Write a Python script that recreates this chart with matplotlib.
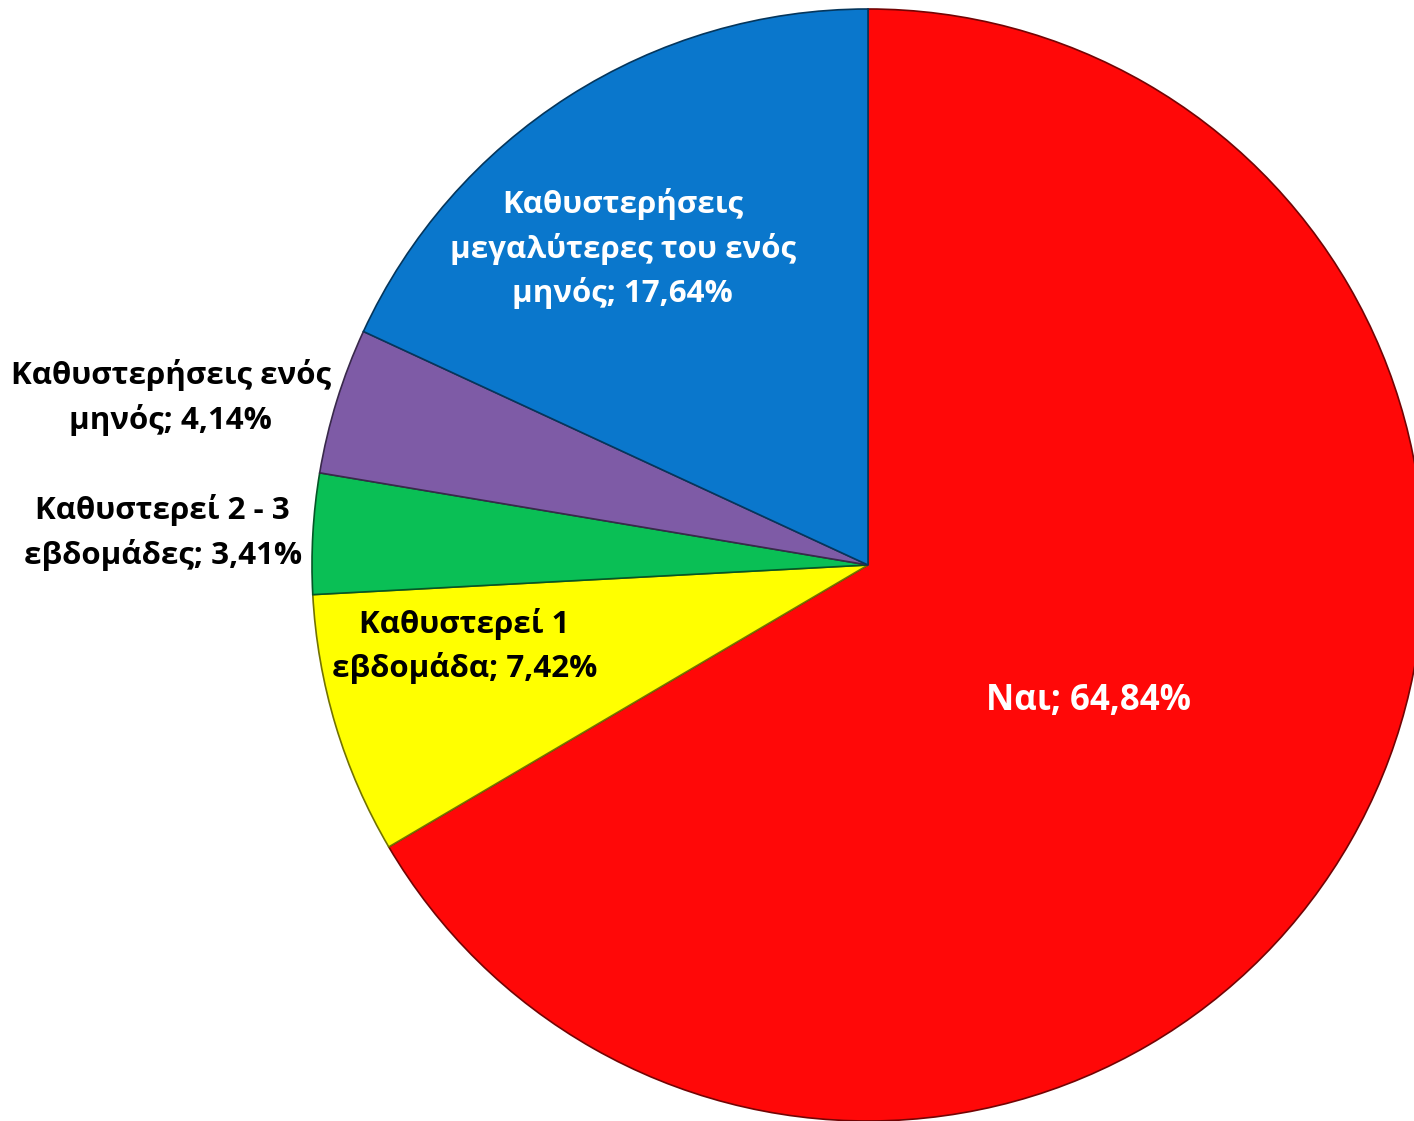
import numpy as np
import matplotlib.pyplot as plt
from matplotlib.colors import to_rgb

labels = [
    "Ναι",
    "Καθυστερεί 1\nεβδομάδα",
    "Καθυστερεί 2 - 3\nεβδομάδες",
    "Καθυστερήσεις ενός\nμηνός",
    "Καθυστερήσεις\nμεγαλύτερες του ενός\nμηνός",
]
values = [64.84, 7.42, 3.41, 4.14, 17.64]
pct_text = ["64,84%", "7,42%", "3,41%", "4,14%", "17,64%"]
colors = ["#FF0808", "#FFFF00", "#0ABF55", "#7E5BA6", "#0A77CC"]
text_colors = ["white", "black", "black", "black", "white"]

# label placement: radius (in pie radii) and angle shift from wedge middle
label_r = [0.465, 0.74, 1.27, 1.29, 0.72]
label_shift = [-1.9, -5.4, 0.6, 3.7, 5.2]
label_size = [25, 22.5, 22.5, 22.5, 22.5]

plt.rcParams["font.family"] = ["Open Sans", "DejaVu Sans"]

fig = plt.figure(figsize=(14.14, 11.21), dpi=100)
ax = fig.add_axes([0, 0, 1, 1])

wedges, _ = ax.pie(
    values,
    colors=colors,
    startangle=90,
    counterclock=False,
    radius=1.0,
    wedgeprops=dict(linewidth=1.2),
)
for w, c in zip(wedges, colors):
    w.set_edgecolor(tuple(v * 0.45 for v in to_rgb(c)))

for w, lab, pct, tc, r, sh, fs in zip(
    wedges, labels, pct_text, text_colors, label_r, label_shift, label_size
):
    ang = np.deg2rad((w.theta1 + w.theta2) / 2 + sh)
    ax.text(
        r * np.cos(ang),
        r * np.sin(ang),
        f"{lab}; {pct}",
        ha="center",
        va="center",
        fontsize=fs,
        fontweight="bold",
        color=tc,
        linespacing=1.5,
    )

# centre at (868, 565) px, radius 556 px
ax.set_xlim(-868 / 556, (1414 - 868) / 556)
ax.set_ylim(-(1121 - 565) / 556, 565 / 556)
ax.set_aspect("auto")
ax.axis("off")

fig.savefig("out.png", dpi=100)
